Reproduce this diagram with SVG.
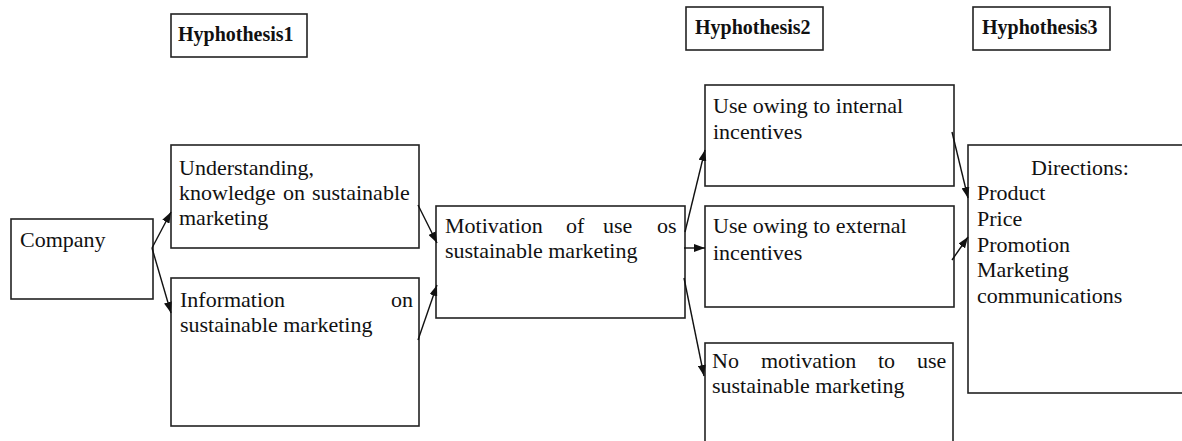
<svg xmlns="http://www.w3.org/2000/svg" width="1182" height="441" viewBox="0 0 1182 441">
<style>
rect{fill:#fff;stroke:#222;stroke-width:1.6}
.t{font-family:'Liberation Serif','Times New Roman','DejaVu Serif',serif;font-size:22px;font-weight:normal;fill:#111}
.h{font-family:'Liberation Serif','Times New Roman','DejaVu Serif',serif;font-weight:bold;font-size:20px;fill:#111}
.c{stroke:#111;stroke-width:1.4;fill:none;marker-end:url(#ah)}
</style>
<defs>
<marker id="ah" markerUnits="userSpaceOnUse" markerWidth="11" markerHeight="8" refX="11" refY="4" orient="auto">
<path d="M0,0 L11,4 L0,8 z" fill="#111"/>
</marker>
</defs>
<g id="hyp1"><rect x="171" y="14" width="136" height="43"/><text class="h" x="178" y="41">Hyphothesis1</text></g>
<g id="hyp2"><rect x="686" y="7" width="137" height="43"/><text class="h" x="695" y="34">Hyphothesis2</text></g>
<g id="hyp3"><rect x="973" y="7" width="137" height="43"/><text class="h" x="982" y="34">Hyphothesis3</text></g>
<g id="company"><rect x="11" y="219" width="142" height="80"/><text class="t" x="20" y="247">Company</text></g>
<g id="understanding"><rect x="171" y="145" width="248" height="103"/>
<text class="t" x="179" y="175">Understanding,</text>
<text class="t" x="179" y="200">knowledge<tspan x="283">on</tspan><tspan x="312">sustainable</tspan></text>
<text class="t" x="179" y="225">marketing</text></g>
<g id="information"><rect x="171" y="278" width="248" height="148"/>
<text class="t" x="180" y="307">Information<tspan x="391">on</tspan></text>
<text class="t" x="180" y="332">sustainable marketing</text></g>
<g id="motivation"><rect x="436" y="206" width="249" height="112"/>
<text class="t" x="445" y="233">Motivation<tspan x="566">of</tspan><tspan x="603">use</tspan><tspan x="657">os</tspan></text>
<text class="t" x="445" y="258">sustainable marketing</text></g>
<g id="internal"><rect x="705" y="85" width="249" height="101"/>
<text class="t" x="713" y="113">Use owing to internal</text>
<text class="t" x="713" y="139">incentives</text></g>
<g id="external"><rect x="705" y="206" width="249" height="101"/>
<text class="t" x="713" y="233">Use owing to external</text>
<text class="t" x="713" y="260">incentives</text></g>
<g id="nomotivation"><rect x="705" y="343" width="248" height="120"/>
<text class="t" x="712" y="368">No<tspan x="761">motivation</tspan><tspan x="878">to</tspan><tspan x="917">use</tspan></text>
<text class="t" x="712" y="393">sustainable marketing</text></g>
<g id="directions"><rect x="968" y="145" width="230" height="248"/>
<text class="t" x="1031" y="175">Directions:</text>
<text class="t" x="977" y="200">Product</text>
<text class="t" x="977" y="226">Price</text>
<text class="t" x="977" y="252">Promotion</text>
<text class="t" x="977" y="277">Marketing</text>
<text class="t" x="977" y="303">communications</text></g>
<g id="connectors">
<line class="c" x1="152" y1="248" x2="171" y2="212"/>
<line class="c" x1="152" y1="248" x2="171" y2="313"/>
<line class="c" x1="418" y1="205" x2="437" y2="243"/>
<line class="c" x1="418" y1="340" x2="437" y2="285"/>
<line class="c" x1="685" y1="232" x2="705" y2="150"/>
<line class="c" x1="684" y1="248" x2="705" y2="248"/>
<line class="c" x1="684" y1="278" x2="704" y2="376"/>
<line class="c" x1="952" y1="132" x2="968" y2="198"/>
<line class="c" x1="952" y1="260" x2="968" y2="237"/>
</g>
</svg>
